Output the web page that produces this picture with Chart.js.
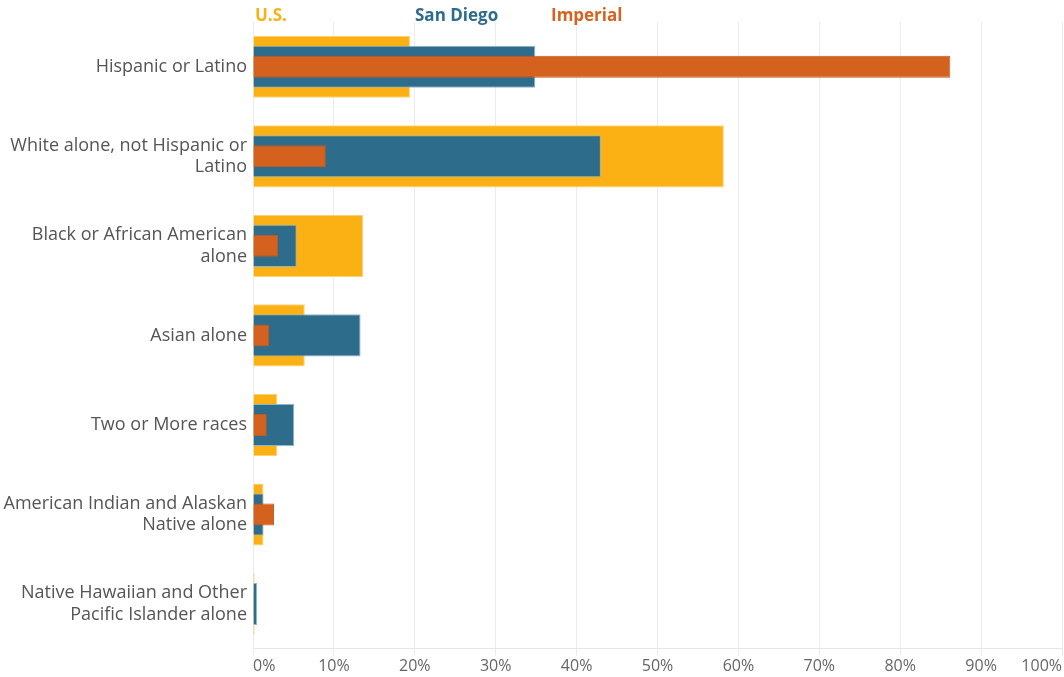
<!DOCTYPE html>
<html>
<head>
<meta charset="utf-8">
<script src="https://cdn.jsdelivr.net/npm/chart.js@4"></script>
<style>
  body { margin: 0; background: #fff; }
  #wrap { position: relative; width: 1064px; height: 677px; }
  .key { position: absolute; top: 3px; font: bold 17px "Open Sans", sans-serif; }
</style>
</head>
<body>
<div id="wrap">
  <canvas id="chart" width="1064" height="677"></canvas>
  <span class="key" style="left:255px;color:#F9B214">U.S.</span>
  <span class="key" style="left:415px;color:#2E6C8C">San Diego</span>
  <span class="key" style="left:551px;color:#D5621F">Imperial</span>
</div>
<script>
const categories = [
    'Hispanic or Latino',
    ['White alone, not Hispanic or', 'Latino'],
    ['Black or African American', 'alone'],
    'Asian alone',
    'Two or More races',
    ['American Indian and Alaskan', 'Native alone'],
    ['Native Hawaiian and Other', 'Pacific Islander alone']
]
const usValues = [19.4, 58.2, 13.6, 6.4, 3.0, 1.3, 0.2]
const sanDiegoValues = [34.9, 43.0, 5.4, 13.3, 5.1, 1.3, 0.5]
const imperialValues = [86.2, 9.0, 3.1, 2.0, 1.7, 2.6, 0.1]

const ctx = document.getElementById('chart').getContext('2d')
new Chart(ctx, {
    type: 'bar',
    data: {
        labels: categories,
        datasets: [
            {
                label: 'U.S.',
                data: usValues,
                backgroundColor: '#FBB113',
                borderColor: '#FCD27A',
                borderWidth: 1,
                barPercentage: 0.694,
                categoryPercentage: 1,
                grouped: false,
                order: 3
            },
            {
                label: 'San Diego',
                data: sanDiegoValues,
                backgroundColor: '#2E6C8C',
                borderColor: '#8DB6CC',
                borderWidth: 1,
                barPercentage: 0.47,
                categoryPercentage: 1,
                grouped: false,
                order: 2
            },
            {
                label: 'Imperial',
                data: imperialValues,
                backgroundColor: '#D4611E',
                borderColor: '#C05A20',
                borderWidth: 1,
                barPercentage: 0.246,
                categoryPercentage: 1,
                grouped: false,
                order: 1
            }
        ]
    },
    options: {
        indexAxis: 'y',
        responsive: false,
        animation: false,
        layout: { padding: { top: 22, right: 2, left: 0, bottom: 0 } },
        plugins: {
            legend: { display: false },
            tooltip: { enabled: false }
        },
        scales: {
            x: {
                min: 0,
                max: 100,
                ticks: {
                    stepSize: 10,
                    align: 'inner',
                    padding: 1,
                    color: '#666',
                    font: { family: 'Open Sans', size: 16 },
                    callback: (v) => v + '%'
                },
                grid: { color: '#ececec', tickLength: 7 },
                border: { color: '#e6e6e6' }
            },
            y: {
                ticks: {
                    color: '#555',
                    padding: 6,
                    font: { family: 'Open Sans', size: 18 }
                },
                grid: { display: false, drawTicks: false },
                border: { display: false },
                afterFit: (scale) => {
                    scale.width = 253
                    // labels fit inside their bands, no extra room needed
                    scale.paddingTop = 0
                    scale.paddingBottom = 0
                }
            }
        }
    }
})
</script>
</body>
</html>
